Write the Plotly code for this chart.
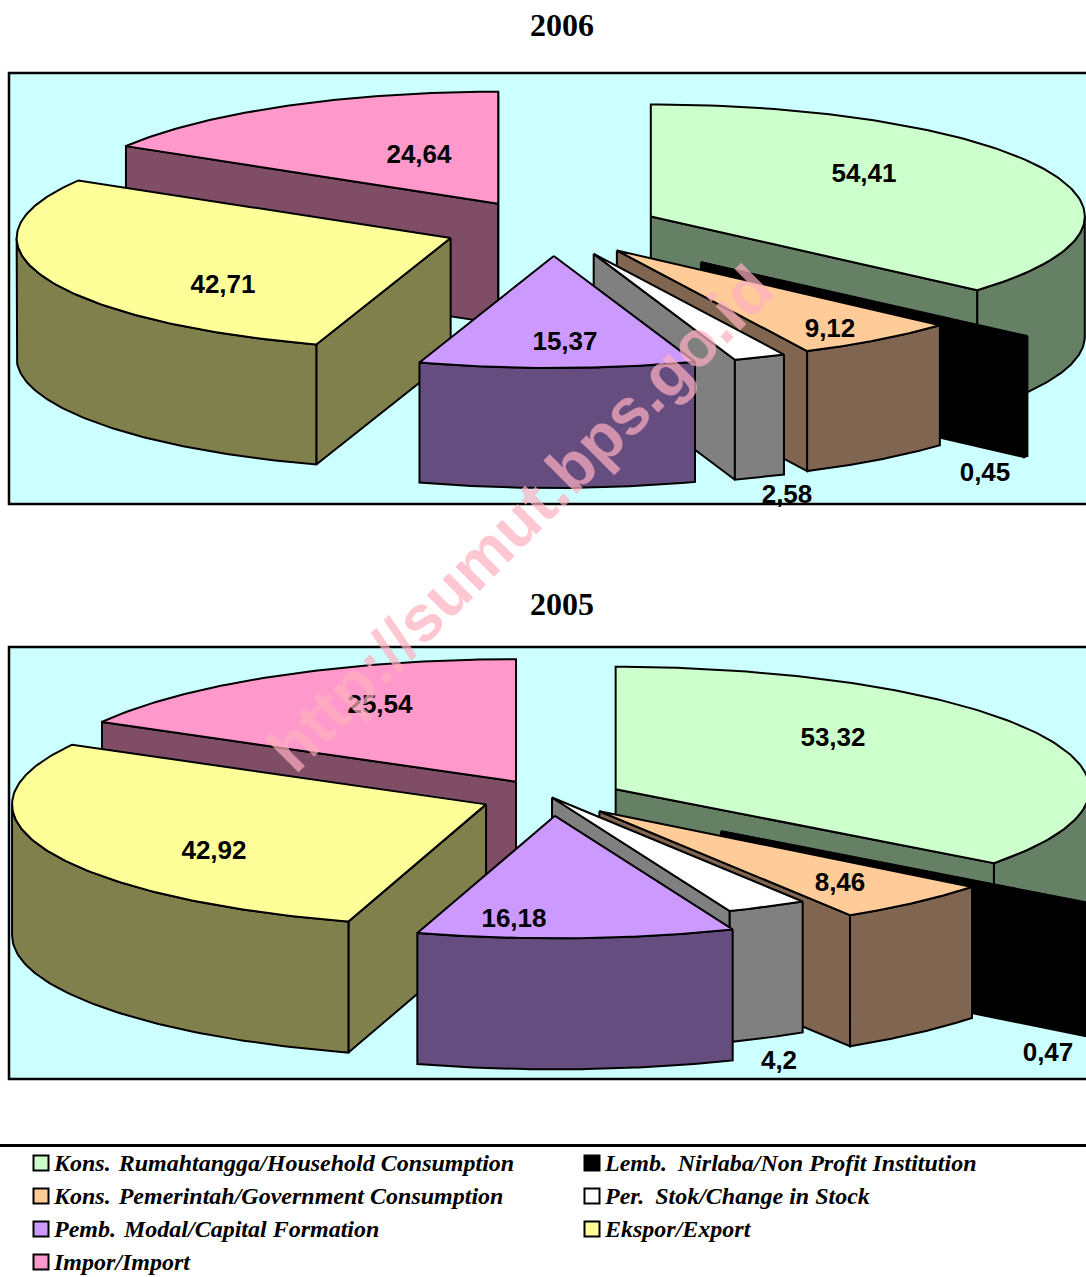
import numpy as np
import plotly.graph_objects as go

# %%
# data
categories = [
    "Kons.\u00a0\u200aRumahtangga/Household Consumption",
    "Lemb.\u00a0\u2009Nirlaba/Non Profit Institution",
    "Kons.\u00a0\u200aPemerintah/Government Consumption",
    "Per.\u00a0\u2009Stok/Change in Stock",
    "Pemb.\u00a0\u200aModal/Capital Formation",
    "Ekspor/Export",
    "Impor/Import",
]
values_2006 = [54.41, 0.45, 9.12, 2.58, 15.37, 42.71, 24.64]
values_2005 = [53.32, 0.47, 8.46, 4.2, 16.18, 42.92, 25.54]
explode_2006 = [0.25, 0.46, 0.25, 0.25, 0.25, 0.25, 0.25]
explode_2005 = [0.15, 0.45, 0.15, 0.0, 0.15, 0.15, 0.15]

# %%
# styles and layout
top_colors = ["#CCFFCC", "#000000", "#FFCC99", "#FFFFFF", "#CC99FF", "#FFFF99", "#FF99CC"]
side_colors = ["#668066", "#000000", "#806650", "#808080", "#664D80", "#80804D", "#804D66"]
draw_order = [6, 5, 0, 1, 2, 3, 4]  # back to front

# the drawn slices are a bit off from the exact shares, degrees per slice edge
edge_nudge_2006 = [0, 0, -0.4, -0.3, 0.5, 0.45, 0.35, 0]
edge_nudge_2005 = [0, 0, 0, -0.25, -0.35, 0, 0, 0]

label_x_2006 = [864, 985, 830, 787, 565, 223, 419]
label_y_2006 = [175, 474, 330, 496, 343, 286, 156]
label_x_2005 = [833, 1048, 840, 779, 514, 214, 380]
label_y_2005 = [739, 1054, 884, 1062, 920, 852, 706]

legend_x = [41, 592, 41, 592, 41, 592, 41]
legend_y = [1163, 1163, 1196, 1196, 1229, 1229, 1262]


def rim(angle, cx, cy, rx, ry):
    return cx + rx * np.sin(angle), cy - ry * np.cos(angle)


def add_face(fig, xs, ys, color):
    fig.add_trace(go.Scatter(
        x=xs, y=ys, mode="lines", fill="toself", fillcolor=color,
        line=dict(color="black", width=2), hoverinfo="skip", showlegend=False,
    ))


def add_pie(fig, values, explode, nudge, cx, cy, rx, ry, depth):
    total = sum(values)
    exact = np.cumsum([0] + values) / total * 2 * np.pi
    edges = exact + np.radians(nudge)
    for i in draw_order:
        a0, a1 = edges[i], edges[i + 1]
        mid = (exact[i] + exact[i + 1]) / 2
        ax, ay = rim(mid, 0, 0, rx * explode[i], ry * explode[i])
        ax, ay = cx + ax, cy + ay

        # radial walls, only the ones facing the viewer
        if np.sin(a0) < 0:
            x, y = rim(a0, ax, ay, rx, ry)
            add_face(fig, [ax, x, x, ax, ax], [ay, y, y + depth, ay + depth, ay], side_colors[i])
        if np.sin(a1) > 0:
            x, y = rim(a1, ax, ay, rx, ry)
            add_face(fig, [ax, x, x, ax, ax], [ay, y, y + depth, ay + depth, ay], side_colors[i])

        # outer wall, front half of the rim
        lo, hi = max(a0, np.pi / 2), min(a1, 3 * np.pi / 2)
        if hi > lo:
            t = np.linspace(lo, hi, 80)
            x, y = rim(t, ax, ay, rx, ry)
            add_face(fig, list(x) + list(x[::-1]) + [x[0]],
                     list(y) + list(y[::-1] + depth) + [y[0]], side_colors[i])

        # top
        t = np.linspace(a0, a1, 120)
        x, y = rim(t, ax, ay, rx, ry)
        add_face(fig, [ax] + list(x) + [ax], [ay] + list(y) + [ay], top_colors[i])


def add_labels(fig, values, xs, ys):
    fig.add_trace(go.Scatter(
        x=xs, y=ys, mode="text",
        text=[str(v).replace(".", ",") for v in values],
        textposition="middle center",
        textfont=dict(family="Liberation Sans", size=26, color="black", weight="bold"),
        hoverinfo="skip", showlegend=False,
    ))


# %%
fig = go.Figure()

add_pie(fig, values_2006, explode_2006, edge_nudge_2006, 552, 228, 434, 112, 120)
add_pie(fig, values_2005, explode_2005, edge_nudge_2005, 552, 797.5, 474, 122.5, 131)
add_labels(fig, values_2006, label_x_2006, label_y_2006)
add_labels(fig, values_2005, label_x_2005, label_y_2005)

# legend keys and texts
fig.add_trace(go.Scatter(
    x=legend_x, y=legend_y, mode="markers",
    marker=dict(symbol="square", size=15, color=top_colors, line=dict(color="black", width=2)),
    hoverinfo="skip", showlegend=False,
))
fig.add_trace(go.Scatter(
    x=[v + 13 for v in legend_x], y=[v + 2 for v in legend_y], mode="text", text=categories,
    textposition="middle right",
    textfont=dict(family="Liberation Serif", size=24, color="black", weight="bold", style="italic"),
    hoverinfo="skip", showlegend=False,
))

fig.update_layout(
    width=1086, height=1277,
    margin=dict(l=0, r=0, t=0, b=0),
    paper_bgcolor="white", plot_bgcolor="white",
    xaxis=dict(range=[0, 1086], visible=False, fixedrange=True),
    yaxis=dict(range=[1277, 0], visible=False, fixedrange=True),
    shapes=[
        dict(type="rect", x0=9, x1=1110, y0=73, y1=504, layer="below",
             fillcolor="#CCFFFF", line=dict(color="black", width=2.5)),
        dict(type="rect", x0=9, x1=1110, y0=647, y1=1079, layer="below",
             fillcolor="#CCFFFF", line=dict(color="black", width=2.5)),
        dict(type="line", x0=0, x1=1086, y0=1145.5, y1=1145.5,
             line=dict(color="black", width=3)),
    ],
    annotations=[
        dict(x=562, y=25, text="2006", showarrow=False, xref="x", yref="y",
             font=dict(family="Liberation Serif", size=32, color="black", weight="bold")),
        dict(x=562, y=604, text="2005", showarrow=False, xref="x", yref="y",
             font=dict(family="Liberation Serif", size=32, color="black", weight="bold")),
        dict(x=520, y=518, text="http://sumut.bps.go.id", showarrow=False, xref="x", yref="y",
             textangle=-45, opacity=0.7,
             font=dict(family="Liberation Sans", size=65, color="#FFB0C0", weight="bold")),
    ],
)

fig.write_html("out.html", post_script="document.body.style.margin='0';", config=dict(displayModeBar=False))
